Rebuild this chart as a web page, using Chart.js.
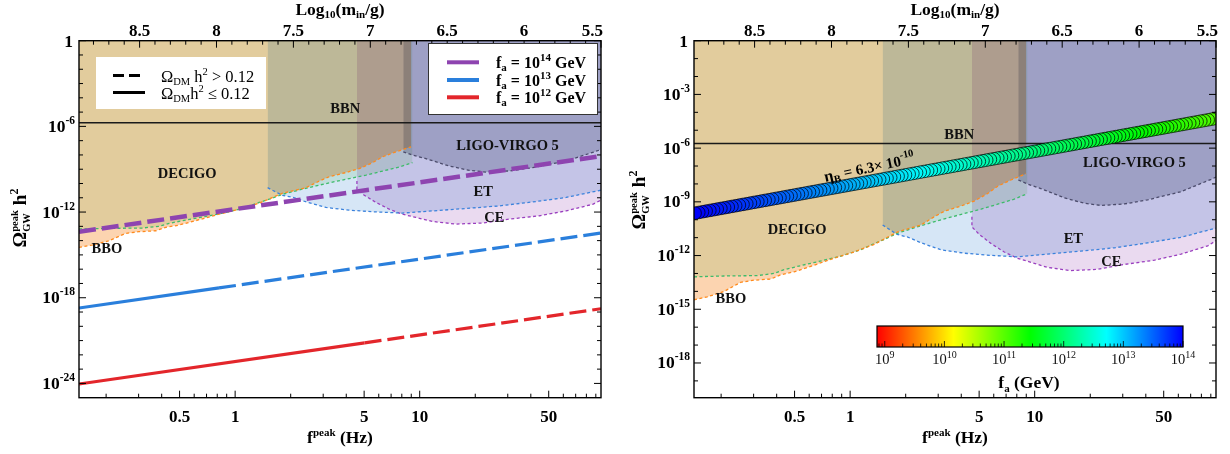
<!DOCTYPE html>
<html><head><meta charset="utf-8">
<script src="https://cdn.jsdelivr.net/npm/chart.js@4.4.1/dist/chart.umd.min.js"></script>
<style>
html,body{margin:0;padding:0;background:#fff;}
#wrap{width:1230px;height:454px;display:flex;}
canvas{display:block;}
</style></head><body>
<div id="wrap"><canvas id="c1" width="615" height="454"></canvas><canvas id="c2" width="615" height="454"></canvas></div>
<script>
// ---------- axes ----------
const F_MIN = 0.1426, F_MAX = 96;          // f^peak (Hz)
const M_LEFT = 8.894, M_RIGHT = 5.5;       // Log10(m_in/g)
const xMajorTicks = [0.5, 1, 5, 10, 50];
const xMinorTicks = [0.2,0.3,0.4,0.6,0.7,0.8,0.9,2,3,4,6,7,8,9,20,30,40,60,70,80,90];
const topTicks = [8.5, 8, 7.5, 7, 6.5, 6, 5.5];
const yTickExpLeft = [-24, -18, -12, -6, 0];
const yTickExpRight = [-18, -15, -12, -9, -6, -3, 0];
const Y_MIN_LEFT = 1.3e-25, Y_MIN_RIGHT = 1.15e-20, Y_MAX = 1;
const cbTickExp = [9, 10, 11, 12, 13, 14];
const CB_MIN = 8.87, CB_MAX = 14.0;        // colour bar range, log10 f_a

// ---------- detector sensitivity curves ----------
const bboF = [0.1426,0.168,0.207,0.255,0.301,0.372,0.421,0.497,0.638,0.818,1.05,1.35,1.81,2.42,2.86,3.24,3.98,4.70,5.56,6.30,7.43,8.97];
const bboOmega = [3.4e-15,4.9e-15,9.8e-15,3.2e-14,4.2e-14,4.9e-14,8.5e-14,1.23e-13,2.9e-13,7.1e-13,1.58e-12,4.2e-12,2.1e-11,5.1e-11,1.48e-10,3.0e-10,5.8e-10,1.1e-9,2.9e-9,7.4e-9,1.66e-8,3.7e-8];
const decigoF = [0.1426,0.207,0.314,0.387,0.439,0.541,0.723,0.891,1.14,1.35,1.53,1.81,2.22,2.74,3.37,4.15,5.12,6.30,7.74,9.14];
const decigoOmega = [6.5e-14,7.2e-14,7.6e-14,1.0e-13,1.62e-13,2.75e-13,5.5e-13,9.3e-13,2.1e-12,4.7e-12,7.9e-12,1.78e-11,3.5e-11,6.8e-11,1.26e-10,2.2e-10,3.9e-10,7.4e-10,1.41e-9,2.9e-9];
const etF = [1.50,1.80,2.04,2.43,3.11,4.15,5.82,8.05,11.7,17.8,27.0,40.9,62.1,96];
const etOmega = [5.1e-11,1.5e-11,1.1e-11,5.1e-12,2.1e-12,1.35e-12,1.02e-12,8.5e-13,1.2e-12,1.78e-12,2.7e-12,5.1e-12,1.05e-11,3.4e-11];
const ceF = [4.57,4.57,5.01,5.80,6.84,8.05,9.55,11.7,15.7,21.9,30.6,44.6,62.1,86.6,96];
const ceOmega = [1.48e-10,4.0e-11,1.5e-11,4.7e-12,1.58e-12,7.1e-13,4.2e-13,2.2e-13,1.44e-13,1.7e-13,3.2e-13,5.5e-13,1.2e-12,3.5e-12,6.8e-12];
const ligoF = [8.15,9.16,10.8,14.5,18.6,22.9,30.6,40.9,62.1,90.4,96];
const ligoOmega = [1.66e-8,9.8e-9,5.5e-9,1.66e-9,8.3e-10,6.3e-10,7.6e-10,1.29e-9,3.7e-9,1.82e-8,2.4e-8];
const bbnOmega = 1.8e-6;

// ---------- left panel: f_a lines ----------
const fa14F = [0.1426, 96];        const fa14Omega = [4.2e-14, 8.3e-9];          const fa14DashFrom = 0;
const fa13F = [0.1426, 0.818, 96]; const fa13Omega = [1.9e-19, 4.9e-18, 3.4e-14]; const fa13DashFrom = 1;
const fa12F = [0.1426, 5.03, 96];  const fa12Omega = [9.1e-25, 6.9e-22, 1.7e-19]; const fa12DashFrom = 1;

// ---------- right panel: eta_B = 6.3e-10 markers (log10 f, log10 Omega) ----------
const etaLogF = [-0.84,-0.82,-0.80,-0.78,-0.76,-0.74,-0.72,-0.70,-0.68,-0.66,-0.64,-0.62,-0.60,-0.58,-0.56,-0.54,-0.52,-0.50,-0.48,-0.46,
  -0.44,-0.42,-0.40,-0.38,-0.36,-0.34,-0.32,-0.30,-0.28,-0.26,-0.24,-0.22,-0.20,-0.18,-0.16,-0.14,-0.12,-0.10,-0.08,-0.06,
  -0.04,-0.02,0.00,0.02,0.04,0.06,0.08,0.10,0.12,0.14,0.16,0.18,0.20,0.22,0.24,0.26,0.28,0.30,0.32,0.34,
  0.36,0.38,0.40,0.42,0.44,0.46,0.48,0.50,0.52,0.54,0.56,0.58,0.60,0.62,0.64,0.66,0.68,0.70,0.72,0.74,
  0.76,0.78,0.80,0.82,0.84,0.86,0.88,0.90,0.92,0.94,0.96,0.98,1.00,1.02,1.04,1.06,1.08,1.10,1.12,1.14,
  1.16,1.18,1.20,1.22,1.24,1.26,1.28,1.30,1.32,1.34,1.36,1.38,1.40,1.42,1.44,1.46,1.48,1.50,1.52,1.54,
  1.56,1.58,1.60,1.62,1.64,1.66,1.68,1.70,1.72,1.74,1.76,1.78,1.80,1.82,1.84,1.86,1.88,1.90,1.92,1.94,
  1.96,1.98,2.00];
const etaLogOmega = [-9.63,-9.5925,-9.555,-9.5175,-9.48,-9.4425,-9.405,-9.3675,-9.33,-9.2925,-9.255,-9.2175,-9.18,-9.1425,-9.105,-9.0675,-9.03,-8.9925,-8.955,-8.9175,
  -8.88,-8.8425,-8.805,-8.7675,-8.73,-8.6925,-8.655,-8.6175,-8.58,-8.5425,-8.505,-8.4675,-8.43,-8.3925,-8.355,-8.3175,-8.28,-8.2425,-8.205,-8.1675,
  -8.13,-8.0925,-8.055,-8.0175,-7.98,-7.9425,-7.905,-7.8675,-7.83,-7.7925,-7.755,-7.7175,-7.68,-7.6425,-7.605,-7.5675,-7.53,-7.4925,-7.455,-7.4175,
  -7.38,-7.3425,-7.305,-7.2675,-7.23,-7.1925,-7.155,-7.1175,-7.08,-7.0425,-7.005,-6.9675,-6.93,-6.8925,-6.855,-6.8175,-6.78,-6.7425,-6.705,-6.6675,
  -6.63,-6.5925,-6.555,-6.5175,-6.48,-6.4425,-6.405,-6.3675,-6.33,-6.2925,-6.255,-6.2175,-6.18,-6.1425,-6.105,-6.0675,-6.03,-5.9925,-5.955,-5.9175,
  -5.88,-5.8425,-5.805,-5.7675,-5.73,-5.6925,-5.655,-5.6175,-5.58,-5.5425,-5.505,-5.4675,-5.43,-5.3925,-5.355,-5.3175,-5.28,-5.2425,-5.205,-5.1675,
  -5.13,-5.0925,-5.055,-5.0175,-4.98,-4.9425,-4.905,-4.8675,-4.83,-4.7925,-4.755,-4.7175,-4.68,-4.6425,-4.605,-4.5675,-4.53,-4.4925,-4.455,-4.4175,
  -4.38,-4.3425,-4.305];
const etaFaStart = 14.0, etaFaEnd = 11.0;   // log10 f_a at the two ends of the marker line

// ---------- text labels (data coordinates) ----------
const leftLabels = [
  {t:'DECIGO', f:0.55, o:4.4e-10}, {t:'BBN', f:3.95, o:1.5e-5}, {t:'LIGO-VIRGO 5', f:29.9, o:3.9e-8},
  {t:'ET', f:22.1, o:2.4e-11}, {t:'CE', f:25.4, o:3.7e-13}, {t:'BBO', f:0.202, o:2.6e-15}];
const rightLabels = [
  {t:'DECIGO', f:0.516, o:2.6e-11}, {t:'BBN', f:3.9, o:5.4e-6}, {t:'LIGO-VIRGO 5', f:34.7, o:1.48e-7},
  {t:'ET', f:16.2, o:8.3e-12}, {t:'CE', f:26.0, o:4.4e-13}, {t:'BBO', f:0.226, o:3.7e-15}];
const etaLabel = {f:1.27, o:8.3e-8};

// ---------- styles ----------
const SERIF = '"Liberation Serif","DejaVu Serif",serif';
const COL = {bbo:'#fcd4b0', decigo:'#e5f6e4', et:'#d6e6f6', ce:'#eadaf0', ligo:'#cdcfda'};
const LINE = {bbo:'#ff8a1c', decigo:'#3dbb6a', et:'#3b82dc', ce:'#9a3fbf', ligo:'#4c4c6c'};
const FA = {p:'#8e44b0', b:'#2a7fdc', r:'#e3262b'};

function pts(fs, os){ return fs.map((f,i)=>({x:f, y:os[i]})); }
function regionFill(fs, os, color, topAtStart){
  const p = pts(fs, os);
  if (topAtStart) p.unshift({x:fs[0], y:Y_MAX}); else p.push({x:fs[fs.length-1], y:Y_MAX});
  return {data:p, fill:'end', backgroundColor:color, borderColor:'rgba(0,0,0,0)', borderWidth:0,
          pointRadius:0, tension:0, order:10, _isFill:true, clip:0};
}
function dashed(fs, os, color){
  return {data:pts(fs,os), fill:false, borderColor:color, borderWidth:1.3, borderDash:[3,2.5],
          pointRadius:0, tension:0, order:5};
}
function faLine(fs, os, color, dashFrom, w){
  return {data:pts(fs,os), fill:false, borderColor:color, borderWidth:w, pointRadius:0, tension:0, order:2,
    segment:{borderDash: c => c.p0DataIndex >= dashFrom ? [17,6] : []}};
}
function hueFor(logfa){ const h = 240*(logfa-CB_MIN)/(CB_MAX-CB_MIN); return 'hsl('+h.toFixed(1)+',100%,49%)'; }

function regionDatasets(){
  return [
    regionFill(bboF, bboOmega, COL.bbo, false),
    regionFill(decigoF, decigoOmega, COL.decigo, false),
    regionFill(etF, etOmega, COL.et, true),
    regionFill(ceF, ceOmega, COL.ce, true),
    regionFill(ligoF, ligoOmega, COL.ligo, true),
    dashed(bboF, bboOmega, LINE.bbo),
    dashed(decigoF, decigoOmega, LINE.decigo),
    dashed(etF, etOmega, LINE.et),
    dashed(ceF, ceOmega, LINE.ce),
    dashed(ligoF, ligoOmega, LINE.ligo),
    {data:pts([F_MIN,F_MAX],[bbnOmega,bbnOmega]), fill:false, borderColor:'#1a1a1a', borderWidth:1.6, pointRadius:0, order:4}
  ];
}

// ---------- rich text helper ----------
function fnt(s,b){ return (b?'bold ':'')+s+'px '+SERIF; }
function rich(ctx, x, y, parts, align){
  let w = 0;
  for (const p of parts){
    ctx.font = fnt(p.s, p.b);
    p.w = p.stack ? Math.max(...p.stack.map(t=>ctx.measureText(t).width)) : ctx.measureText(p.t).width;
    w += p.w;
  }
  let cx = align==='center' ? x-w/2 : (align==='right' ? x-w : x);
  ctx.textAlign='left'; ctx.textBaseline='alphabetic';
  for (const p of parts){
    ctx.font = fnt(p.s, p.b);
    if (p.stack){ ctx.fillText(p.stack[0], cx, y+p.dy[0]); ctx.fillText(p.stack[1], cx, y+p.dy[1]); }
    else ctx.fillText(p.t, cx, y+(p.dy||0));
    cx += p.w;
  }
  return w;
}

function drawAxes(chart, P){
  const ctx=chart.ctx, a=chart.chartArea, sx=chart.scales.x, sx2=chart.scales.x2, sy=chart.scales.y;
  ctx.save();
  ctx.setLineDash([]); ctx.strokeStyle='#000'; ctx.lineWidth=1;
  const L=(x1,y1,x2,y2)=>{ctx.beginPath();ctx.moveTo(x1,y1);ctx.lineTo(x2,y2);ctx.stroke();};
  xMajorTicks.forEach(v=>{const p=sx.getPixelForValue(v); L(p,a.bottom,p,a.bottom-7);});
  xMinorTicks.forEach(v=>{const p=sx.getPixelForValue(v); L(p,a.bottom,p,a.bottom-4);});
  topTicks.forEach(v=>{const p=sx2.getPixelForValue(v); L(p,a.top,p,a.top+7);});
  for (let m=56;m<=88;m++){ if (m%5===0) continue; const p=sx2.getPixelForValue(m/10); L(p,a.top,p,a.top+4); }
  const e0=Math.ceil(Math.log10(P.yMin));
  for (let e=e0;e<=0;e++){
    const p=sy.getPixelForValue(Math.pow(10,e)); const len=P.yTicks.includes(e)?7:4;
    L(a.left,p,a.left+len,p); L(a.right,p,a.right-len,p);
  }
  ctx.lineWidth=1.4; ctx.strokeRect(a.left,a.top,a.right-a.left,a.bottom-a.top);
  ctx.fillStyle='#000';
  // bottom labels
  xMajorTicks.forEach(v=>{ rich(ctx, sx.getPixelForValue(v), 422, [{t:String(v), s:17, b:1}], 'center'); });
  // top labels
  topTicks.forEach((v,i)=>{
    const p=sx2.getPixelForValue(v);
    if (i===topTicks.length-1) rich(ctx, p+2, 36, [{t:String(v), s:17, b:1}], 'right');
    else rich(ctx, p, 36, [{t:String(v), s:17, b:1}], 'center');
  });
  // y labels
  P.yTicks.forEach(e=>{
    const p=sy.getPixelForValue(Math.pow(10,e));
    if (e===0) rich(ctx, a.left-6, p+6, [{t:'1', s:17.5, b:1}], 'right');
    else rich(ctx, a.left-4, p+5.5, [{t:'10', s:17.5, b:1},{t:'-'+(-e), s:11.5, b:1, dy:-8}], 'right');
  });
  // titles
  const cxm=(a.left+a.right)/2;
  rich(ctx, cxm, 443, [{t:'f',s:17.5,b:1},{t:'peak',s:11,b:1,dy:-7},{t:' (Hz)',s:17.5,b:1}], 'center');
  rich(ctx, cxm, 15, [{t:'Log',s:17.5,b:1},{t:'10',s:11,b:1,dy:3},{t:'(m',s:17.5,b:1},{t:'in',s:11,b:1,dy:3},{t:'/g)',s:17.5,b:1}], 'center');
  ctx.save();
  ctx.translate(P.yTitleX, P.yTitleY); ctx.rotate(-Math.PI/2);
  rich(ctx, 0, 6, [{t:'Ω',s:19.5,b:1},{stack:['peak','GW'],s:10.5,b:1,dy:[-8,4]},{t:' h',s:19.5,b:1},{t:'2',s:12,b:1,dy:-8}], 'center');
  ctx.restore();
  // region labels
  ctx.textAlign='center'; ctx.textBaseline='middle'; ctx.font=fnt(14.5,true); ctx.fillStyle='#111';
  P.labels.forEach(l=>{ ctx.fillText(l.t, sx.getPixelForValue(l.f), sy.getPixelForValue(l.o)); });
  ctx.restore();
}

function drawLeftLegends(ctx){
  ctx.save();
  ctx.fillStyle='#fff'; ctx.fillRect(96,57,170,52);
  ctx.strokeStyle='#000'; ctx.lineWidth=3;
  ctx.setLineDash([11,5]); ctx.beginPath(); ctx.moveTo(113,75.5); ctx.lineTo(145,75.5); ctx.stroke();
  ctx.setLineDash([]); ctx.beginPath(); ctx.moveTo(113,92.5); ctx.lineTo(145,92.5); ctx.stroke();
  ctx.fillStyle='#000';
  rich(ctx,161,81.5,[{t:'Ω',s:16.5},{t:'DM',s:10.5,dy:3},{t:' h',s:16.5},{t:'2',s:10.5,dy:-7},{t:' > 0.12',s:16.5}],'left');
  rich(ctx,161,98.5,[{t:'Ω',s:16.5},{t:'DM',s:10.5,dy:3},{t:'h',s:16.5},{t:'2',s:10.5,dy:-7},{t:' ≤ 0.12',s:16.5}],'left');
  ctx.fillStyle='#fff'; ctx.fillRect(428,43,170,72);
  ctx.strokeStyle='#333'; ctx.lineWidth=1; ctx.strokeRect(428.5,43.5,169,71);
  const ent=[[FA.p,'14',62.3],[FA.b,'13',80],[FA.r,'12',97.3]];
  ent.forEach(([c,ex,y])=>{
    ctx.strokeStyle=c; ctx.lineWidth=4; ctx.beginPath(); ctx.moveTo(447,y); ctx.lineTo(479,y); ctx.stroke();
    ctx.fillStyle='#000';
    rich(ctx,496,y+5.5,[{t:'f',s:16,b:1},{t:'a',s:11,b:1,dy:3},{t:' = 10',s:16,b:1},{t:ex,s:11,b:1,dy:-7},{t:' GeV',s:16,b:1}],'left');
  });
  ctx.restore();
}

function drawRightExtras(chart){
  const ctx=chart.ctx, sx=chart.scales.x, sy=chart.scales.y;
  ctx.save();
  ctx.translate(sx.getPixelForValue(etaLabel.f), sy.getPixelForValue(etaLabel.o));
  ctx.rotate(-12*Math.PI/180);
  ctx.fillStyle='#000';
  rich(ctx,0,5,[{t:'η',s:16,b:1},{t:'B',s:10.5,b:1,dy:3},{t:' = 6.3× 10',s:15,b:1},{t:'-10',s:10.5,b:1,dy:-7}],'center');
  ctx.restore();
  // colour bar
  const x0=262, x1=568, y0=326, y1=347;
  ctx.save();
  const g=ctx.createLinearGradient(x0,0,x1,0);
  for (let i=0;i<=24;i++) g.addColorStop(i/24,'hsl('+(240*i/24)+',100%,50%)');
  ctx.fillStyle=g; ctx.fillRect(x0,y0,x1-x0,y1-y0);
  ctx.strokeStyle='#000'; ctx.lineWidth=1.2; ctx.strokeRect(x0,y0,x1-x0,y1-y0);
  const X=l=>x0+(l-CB_MIN)/(CB_MAX-CB_MIN)*(x1-x0);
  ctx.lineWidth=0.8;
  for (let e=8;e<=14;e++) for (let k=1;k<=9;k++){
    const l=e+Math.log10(k); if (l<CB_MIN||l>CB_MAX) continue;
    const len=k===1?6:3.5; const p=X(l);
    ctx.beginPath(); ctx.moveTo(p,y1); ctx.lineTo(p,y1-len); ctx.stroke();
  }
  ctx.fillStyle='#111';
  cbTickExp.forEach(e=>{ rich(ctx,X(e),364,[{t:'10',s:14.5},{t:String(e),s:10,dy:-6}],'center'); });
  ctx.fillStyle='#000';
  rich(ctx,414,388,[{t:'f',s:17.5,b:1},{t:'a',s:11,b:1,dy:4},{t:' (GeV)',s:17.5,b:1}],'center');
  ctx.restore();
}

const blendPlugin = {
  id:'blend',
  beforeDraw(chart){ const c=chart.ctx; c.save(); c.globalCompositeOperation='source-over'; c.fillStyle='#fff'; c.fillRect(0,0,chart.width,chart.height); c.restore(); },
  beforeDatasetsDraw(chart){ chart.ctx.globalCompositeOperation='multiply'; },
  beforeDatasetDraw(chart,args){ if(!chart.data.datasets[args.index]._isFill) chart.ctx.globalCompositeOperation='source-over'; },
  afterDatasetsDraw(chart){ chart.ctx.globalCompositeOperation='source-over'; }
};

function makeChart(id, P, datasets, extra){
  return new Chart(document.getElementById(id), {
    type:'line',
    data:{datasets},
    options:{
      responsive:false, animation:false, devicePixelRatio:1, events:[],
      layout:{padding:{left:0,right:14,top:0,bottom:0}},
      plugins:{legend:{display:false}, tooltip:{enabled:false}},
      scales:{
        x:{type:'logarithmic', position:'bottom', min:F_MIN, max:F_MAX,
           grid:{display:false}, border:{display:false}, ticks:{display:false}, afterFit(s){ s.height=56.3; }},
        x2:{type:'linear', axis:'x', position:'top', min:M_RIGHT, max:M_LEFT, reverse:true,
           grid:{display:false}, border:{display:false}, ticks:{display:false}, afterFit(s){ s.height=40.7; }},
        y:{type:'logarithmic', min:P.yMin, max:Y_MAX,
           grid:{display:false}, border:{display:false}, ticks:{display:false}, afterFit(s){ s.width=79; }}
      }
    },
    plugins:[blendPlugin, {id:'decor', afterDraw(chart){ drawAxes(chart,P); if(extra) extra(chart); }}]
  });
}

const leftP = {yMin:Y_MIN_LEFT, yTicks:yTickExpLeft, labels:leftLabels, yTitleX:20, yTitleY:218};
const rightP = {yMin:Y_MIN_RIGHT, yTicks:yTickExpRight, labels:rightLabels, yTitleX:24, yTitleY:200};

const leftSets = regionDatasets().concat([
  faLine(fa14F, fa14Omega, FA.p, fa14DashFrom, 4.5),
  faLine(fa13F, fa13Omega, FA.b, fa13DashFrom, 3.2),
  faLine(fa12F, fa12Omega, FA.r, fa12DashFrom, 3.2)
]);
const lf0 = Math.log10(F_MIN), lf1 = Math.log10(F_MAX);
// markers drawn right-to-left so that the left-hand circles sit on top, as in the figure
const etaPoints = etaLogF.map((lf,i)=>({x:Math.pow(10,lf), y:Math.pow(10,etaLogOmega[i])})).reverse();
const rightSets = regionDatasets().concat([{
  data: etaPoints,
  showLine:false, fill:false, order:1, clip:0,
  pointRadius:6.3, pointBorderWidth:0.7, pointBorderColor:'#000',
  pointBackgroundColor: c => { const t=(Math.log10(c.raw.x)-lf0)/(lf1-lf0); return hueFor(etaFaStart+(etaFaEnd-etaFaStart)*t); }
}]);

makeChart('c1', leftP, leftSets, chart => drawLeftLegends(chart.ctx));
makeChart('c2', rightP, rightSets, drawRightExtras);
</script>
</body></html>
